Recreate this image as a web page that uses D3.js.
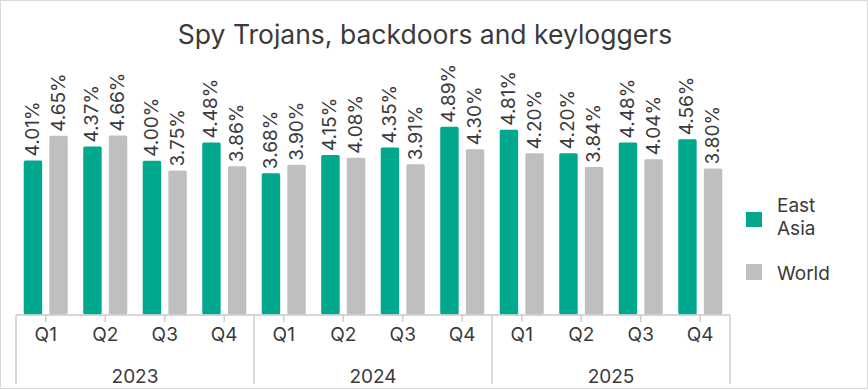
<!DOCTYPE html>
<html><head><meta charset="utf-8">
<script src="https://cdn.jsdelivr.net/npm/d3@7"></script>
<style>body{margin:0;background:#fff}svg{display:block}text{font-family:Inter,"Noto Sans",sans-serif;fill:#3a3a3a}</style>
</head><body><div id="chart"></div>
<script>
const years = ["2023","2024","2025"];
const quarters = ["Q1","Q2","Q3","Q4"];
const seriesNames = ["East Asia","World"];
const eastAsia = [4.01,4.37,4.00,4.48, 3.68,4.15,4.35,4.89, 4.81,4.20,4.48,4.56];
const world    = [4.65,4.66,3.75,3.86, 3.90,4.08,3.91,4.30, 4.20,3.84,4.04,3.80];
const colors = ["#00A88E","#BFBFBF"];

const W=868,H=390;
const svg=d3.select("#chart").append("svg").attr("width",W).attr("height",H);
svg.append("rect").attr("x",0.5).attr("y",0.5).attr("width",W-1).attr("height",H-2)
  .attr("fill","#fff").attr("stroke","#d9d9d9");

const cats=[];years.forEach(y=>quarters.forEach(q=>cats.push(y+"-"+q)));
const x0=d3.scaleBand().domain(cats).range([16,730]).paddingInner(0.26).paddingOuter(0.13);
const x1=d3.scaleBand().domain(seriesNames).range([0,x0.bandwidth()]).paddingInner(0.28);
const y=d3.scaleLinear().domain([0,6]).range([314.5,84]);

svg.append("text").attr("x",425).attr("y",44).attr("text-anchor","middle")
  .style("font-size","26.5px").text("Spy Trojans, backdoors and keyloggers");

const series=[eastAsia,world];
series.forEach((vals,si)=>{
  const g=svg.append("g");
  g.selectAll("rect").data(vals).join("rect")
    .attr("x",(d,i)=>x0(cats[i])+x1(seriesNames[si]))
    .attr("y",d=>y(d)).attr("width",x1.bandwidth()).attr("height",d=>y(0)-y(d))
    .attr("rx",1.5).attr("fill",colors[si]);
  g.selectAll("text").data(vals).join("text")
    .attr("transform",(d,i)=>`translate(${x0(cats[i])+x1(seriesNames[si])+x1.bandwidth()/2+6},${y(d)-4}) rotate(-90)`)
    .style("font-size","19px").text(d=>d.toFixed(2)+"%");
});

// axis
const ax=svg.append("g").attr("stroke","#c8c8c8").attr("stroke-width",1.3);
ax.append("line").attr("x1",16).attr("x2",730).attr("y1",315).attr("y2",315);
cats.forEach(c=>{const cx=x0(c)+x0.bandwidth()/2;
  ax.append("line").attr("x1",cx).attr("x2",cx).attr("y1",315).attr("y2",322);});
const yearScale=d3.scaleBand().domain(years).range([16,730]);
years.forEach(yr=>{
  ax.append("line").attr("x1",yearScale(yr)).attr("x2",yearScale(yr)).attr("y1",315).attr("y2",384);
});
ax.append("line").attr("x1",730).attr("x2",730).attr("y1",315).attr("y2",384);
svg.append("g").selectAll("text").data(cats).join("text")
  .attr("x",c=>x0(c)+x0.bandwidth()/2).attr("y",341).attr("text-anchor","middle")
  .style("font-size","19px").text(c=>c.split("-")[1]);
svg.append("g").selectAll("text").data(years).join("text")
  .attr("x",d=>yearScale(d)+yearScale.bandwidth()/2).attr("y",383).attr("text-anchor","middle")
  .style("font-size","19px").text(d=>d);

// legend
const lg=svg.append("g");
lg.append("rect").attr("x",746).attr("y",212).attr("width",16).attr("height",15).attr("fill",colors[0]);
lg.append("text").attr("x",777).attr("y",212).style("font-size","19px").text("East");
lg.append("text").attr("x",777).attr("y",235).style("font-size","19px").text("Asia");
lg.append("rect").attr("x",746).attr("y",264).attr("width",16).attr("height",16).attr("fill",colors[1]);
lg.append("text").attr("x",777).attr("y",280).style("font-size","19px").text("World");
</script></body></html>
